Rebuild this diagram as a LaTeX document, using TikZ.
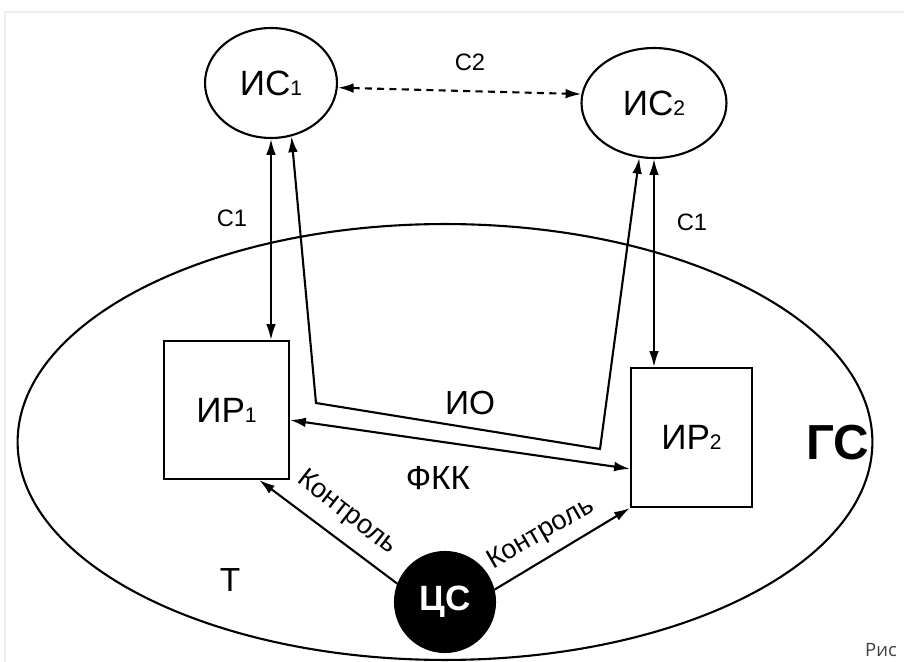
\documentclass[tikz,border=0pt]{standalone}
\usepackage{fontspec}
\setmainfont{Liberation Sans}
\newfontfamily\captfont{Open Sans}
\usetikzlibrary{arrows.meta,shapes.geometric}
\newcommand{\sbn}[1]{{\fontsize{12}{12}\selectfont #1}}

\begin{document}
\begin{tikzpicture}[
  x=0.02cm, y=-0.02cm,
  line width=1.2pt,
  >={Latex[length=9pt,width=5.5pt]},
  station/.style={draw, ellipse, inner sep=0pt, font=\fontsize{20}{24}\selectfont},
  region/.style={draw, rectangle, inner sep=0pt, font=\fontsize{20}{24}\selectfont},
  big/.style={font=\fontsize{19}{23}\selectfont},
  chan/.style={font=\fontsize{13.5}{16}\selectfont},
  ctrl/.style={font=\fontsize{15.5}{18}\selectfont, inner sep=1pt},
]
\useasboundingbox (0,0) rectangle (904,662);
\draw[black!7, line width=0.6pt] (5,662) -- (5,12) -- (904,12);
% global system
\node[draw, ellipse, minimum width=17.1cm, minimum height=8.72cm] (gs) at (445,442) {};
\node[font=\fontsize{28}{32}\selectfont\bfseries] (gslabel) at (838,443) {ГС};
\node[big] (t) at (230,580) {Т};
% stations and regions
\node[station, minimum width=2.64cm, minimum height=2.2cm] (ic1) at (271,83) {ИС\sbn{1}};
\node[station, minimum width=2.9cm, minimum height=2.2cm] (ic2) at (654,103) {ИС\sbn{2}};
\node[region, minimum width=2.5cm, minimum height=2.76cm] (ir1) at (226.5,410) {ИР\sbn{1}};
\node[region, minimum width=2.42cm, minimum height=2.78cm] (ir2) at (691.5,437.5) {ИР\sbn{2}};
\node[draw, circle, fill=black, text=white, minimum size=2cm,
  font=\fontsize{20}{24}\selectfont\bfseries] (cs) at (445,602) {ЦС};
% channels
\draw[<->, dash pattern=on 4pt off 3pt] (ic1.-4) -- (ic2.173);
\node[chan] (c2) at (470,62) {С2};
\draw[<->] (ic1.south) -- (ic1.south |- ir1.north);
\draw[<->] (ic2.south) -- (ic2.south |- ir2.north);
\node[chan] (c1a) at (232,218) {С1};
\node[chan] (c1b) at (692,222) {С1};
% information exchange
\coordinate (io1) at (316,403);
\coordinate (io2) at (600,449);
\draw[<->] (ic1.-69) -- (io1) -- (io2) -- (ic2.-105);
\node[big] (io) at (470,403) {ИО};
\draw[<->] (ir1.-9) -- (ir2.207);
\node[big] (fkk) at (438,478) {ФКК};
% control
\draw[->] (cs.159) -- (ir1.-65);
\draw[->] (cs.14) -- (ir2.south west);
\node[ctrl, rotate=-38] (ctrl1) at (347,513) {Контроль};
\node[ctrl, rotate=30] (ctrl2) at (541,534) {Контроль};
\node[font=\captfont\fontsize{10.5}{12}\selectfont, text=black!75] (fig) at (881,650) {Рис};
\end{tikzpicture}
\end{document}
